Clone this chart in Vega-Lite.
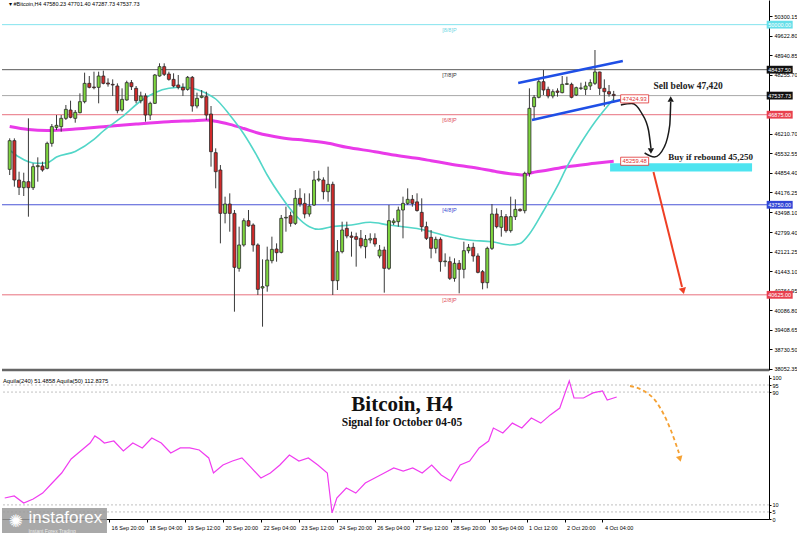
{
"$schema":"https://vega.github.io/schema/vega-lite/v6.json",
"padding":0,
"background":"#ffffff",
"spacing":2,
"config":{"view":{"stroke":null},"font":"Liberation Sans","axis":{"grid":false,"labelFontSize":5.5,"labelColor":"#000000","tickColor":"#000000","domainColor":"#000000","labelOverlap":false,"labelFlush":false,"labelFont":"Liberation Sans"}},
"datasets":{
"candles":[
{"t":"2021-09-13T04:00","o":44979,"h":46055,"l":44782,"c":45974},
{"t":"2021-09-13T08:00","o":45974,"h":46055,"l":44378,"c":44609},
{"t":"2021-09-13T12:00","o":44609,"h":44898,"l":44088,"c":44354},
{"t":"2021-09-13T16:00","o":44343,"h":44863,"l":44054,"c":44551},
{"t":"2021-09-13T20:00","o":44551,"h":46749,"l":43336,"c":44343},
{"t":"2021-09-14T00:00","o":44343,"h":45187,"l":44262,"c":45072},
{"t":"2021-09-14T04:00","o":45072,"h":45396,"l":44551,"c":45106},
{"t":"2021-09-14T08:00","o":45095,"h":45245,"l":44898,"c":44956},
{"t":"2021-09-14T12:00","o":45014,"h":45939,"l":44979,"c":45881},
{"t":"2021-09-14T16:00","o":45881,"h":46552,"l":45766,"c":46460},
{"t":"2021-09-14T20:00","o":46437,"h":46864,"l":46344,"c":46506},
{"t":"2021-09-15T00:00","o":46460,"h":46864,"l":46286,"c":46749},
{"t":"2021-09-15T04:00","o":46749,"h":47212,"l":46691,"c":47061},
{"t":"2021-09-15T08:00","o":47038,"h":47362,"l":46749,"c":46784},
{"t":"2021-09-15T12:00","o":46749,"h":47038,"l":46598,"c":46957},
{"t":"2021-09-15T16:00","o":46946,"h":47616,"l":46922,"c":47327},
{"t":"2021-09-15T20:00","o":47327,"h":48334,"l":47270,"c":47963},
{"t":"2021-09-16T00:00","o":47963,"h":48218,"l":47790,"c":47825},
{"t":"2021-09-16T04:00","o":47836,"h":48368,"l":47755,"c":47813},
{"t":"2021-09-16T08:00","o":47825,"h":48368,"l":47270,"c":48218},
{"t":"2021-09-16T12:00","o":48218,"h":48403,"l":47929,"c":47963},
{"t":"2021-09-16T16:00","o":47975,"h":48137,"l":47848,"c":47940},
{"t":"2021-09-16T20:00","o":47929,"h":48102,"l":47524,"c":47906},
{"t":"2021-09-17T00:00","o":47871,"h":47963,"l":46922,"c":47015},
{"t":"2021-09-17T04:00","o":47038,"h":47790,"l":46980,"c":47408},
{"t":"2021-09-17T08:00","o":47385,"h":48056,"l":47362,"c":47987},
{"t":"2021-09-17T12:00","o":47987,"h":48079,"l":47732,"c":47848},
{"t":"2021-09-17T16:00","o":47790,"h":47871,"l":47270,"c":47362},
{"t":"2021-09-17T20:00","o":47362,"h":47674,"l":47270,"c":47524},
{"t":"2021-09-18T00:00","o":47524,"h":47616,"l":46633,"c":46864},
{"t":"2021-09-18T04:00","o":46864,"h":47327,"l":46691,"c":47270},
{"t":"2021-09-18T08:00","o":47270,"h":48288,"l":47246,"c":48253},
{"t":"2021-09-18T12:00","o":48218,"h":48658,"l":48195,"c":48542},
{"t":"2021-09-18T16:00","o":48542,"h":48658,"l":48218,"c":48276},
{"t":"2021-09-18T20:00","o":48288,"h":48368,"l":48056,"c":48102},
{"t":"2021-09-19T00:00","o":48102,"h":48311,"l":47825,"c":47871},
{"t":"2021-09-19T04:00","o":47906,"h":48253,"l":47755,"c":47825},
{"t":"2021-09-19T08:00","o":47825,"h":47963,"l":47524,"c":47732},
{"t":"2021-09-19T12:00","o":47755,"h":48218,"l":47709,"c":48172},
{"t":"2021-09-19T16:00","o":48172,"h":48218,"l":46980,"c":47177},
{"t":"2021-09-19T20:00","o":47177,"h":47640,"l":47096,"c":47443},
{"t":"2021-09-20T00:00","o":47478,"h":47732,"l":47443,"c":47524},
{"t":"2021-09-20T04:00","o":47501,"h":47674,"l":46691,"c":46864},
{"t":"2021-09-20T08:00","o":46899,"h":47177,"l":45072,"c":45592},
{"t":"2021-09-20T12:00","o":45558,"h":45708,"l":44320,"c":44898},
{"t":"2021-09-20T16:00","o":44956,"h":45129,"l":42411,"c":43452},
{"t":"2021-09-20T20:00","o":43452,"h":44031,"l":43105,"c":43776},
{"t":"2021-09-21T00:00","o":43776,"h":44146,"l":42816,"c":43452},
{"t":"2021-09-21T04:00","o":43452,"h":43568,"l":40040,"c":41579},
{"t":"2021-09-21T08:00","o":41544,"h":42990,"l":41428,"c":42354},
{"t":"2021-09-21T12:00","o":42354,"h":43279,"l":42296,"c":43198},
{"t":"2021-09-21T16:00","o":43198,"h":43568,"l":42990,"c":43013},
{"t":"2021-09-21T20:00","o":43048,"h":43105,"l":42122,"c":42354},
{"t":"2021-09-22T00:00","o":42354,"h":42411,"l":40619,"c":40815},
{"t":"2021-09-22T04:00","o":40862,"h":41856,"l":39520,"c":40908},
{"t":"2021-09-22T08:00","o":40931,"h":42296,"l":40734,"c":41833},
{"t":"2021-09-22T12:00","o":41810,"h":42643,"l":41717,"c":42203},
{"t":"2021-09-22T16:00","o":42215,"h":42411,"l":41775,"c":42088},
{"t":"2021-09-22T20:00","o":42099,"h":43395,"l":42064,"c":43279},
{"t":"2021-09-23T00:00","o":43291,"h":43684,"l":42816,"c":43314},
{"t":"2021-09-23T04:00","o":43372,"h":43510,"l":42990,"c":43105},
{"t":"2021-09-23T08:00","o":43105,"h":44262,"l":43048,"c":43973},
{"t":"2021-09-23T12:00","o":43973,"h":44320,"l":43684,"c":43776},
{"t":"2021-09-23T16:00","o":43799,"h":44146,"l":43279,"c":43429},
{"t":"2021-09-23T20:00","o":43429,"h":44146,"l":43337,"c":43707},
{"t":"2021-09-24T00:00","o":43742,"h":44921,"l":43707,"c":44609},
{"t":"2021-09-24T04:00","o":44609,"h":44933,"l":44551,"c":44644},
{"t":"2021-09-24T08:00","o":44609,"h":44702,"l":43938,"c":44204},
{"t":"2021-09-24T12:00","o":44204,"h":45072,"l":43857,"c":44459},
{"t":"2021-09-24T16:00","o":44459,"h":44551,"l":40619,"c":41116},
{"t":"2021-09-24T20:00","o":41116,"h":42527,"l":40792,"c":42122},
{"t":"2021-09-25T00:00","o":42122,"h":43163,"l":42064,"c":42874},
{"t":"2021-09-25T04:00","o":42932,"h":43163,"l":42585,"c":42666},
{"t":"2021-09-25T08:00","o":42666,"h":42816,"l":41949,"c":42620},
{"t":"2021-09-25T12:00","o":42643,"h":42782,"l":41602,"c":42550},
{"t":"2021-09-25T16:00","o":42585,"h":42874,"l":42238,"c":42319},
{"t":"2021-09-25T20:00","o":42296,"h":42701,"l":41891,"c":42550},
{"t":"2021-09-26T00:00","o":42527,"h":42759,"l":42411,"c":42573},
{"t":"2021-09-26T04:00","o":42585,"h":42759,"l":42296,"c":42388},
{"t":"2021-09-26T08:00","o":41972,"h":42354,"l":41891,"c":42180},
{"t":"2021-09-26T12:00","o":42180,"h":42296,"l":40700,"c":41544},
{"t":"2021-09-26T16:00","o":41544,"h":43742,"l":41486,"c":43198},
{"t":"2021-09-26T20:00","o":43129,"h":43279,"l":43048,"c":43187},
{"t":"2021-09-27T00:00","o":43163,"h":43684,"l":42990,"c":43568},
{"t":"2021-09-27T04:00","o":43568,"h":44031,"l":42585,"c":43799},
{"t":"2021-09-27T08:00","o":43799,"h":44320,"l":43742,"c":43938},
{"t":"2021-09-27T12:00","o":43938,"h":44088,"l":43684,"c":43799},
{"t":"2021-09-27T16:00","o":43850,"h":44147,"l":43510,"c":43550},
{"t":"2021-09-27T20:00","o":43487,"h":43973,"l":42817,"c":42990},
{"t":"2021-09-28T00:00","o":42990,"h":43163,"l":42527,"c":42585},
{"t":"2021-09-28T04:00","o":42620,"h":42874,"l":41891,"c":42238},
{"t":"2021-09-28T08:00","o":42238,"h":42643,"l":42064,"c":42550},
{"t":"2021-09-28T12:00","o":42550,"h":42620,"l":41428,"c":41775},
{"t":"2021-09-28T16:00","o":41775,"h":42064,"l":41602,"c":41798},
{"t":"2021-09-28T20:00","o":41775,"h":41949,"l":41139,"c":41197},
{"t":"2021-09-29T00:00","o":41197,"h":41891,"l":41081,"c":41718},
{"t":"2021-09-29T04:00","o":41718,"h":41833,"l":40676,"c":41509},
{"t":"2021-09-29T08:00","o":41509,"h":42469,"l":41197,"c":42157},
{"t":"2021-09-29T12:00","o":42157,"h":42388,"l":42064,"c":42273},
{"t":"2021-09-29T16:00","o":42273,"h":42435,"l":41775,"c":41972},
{"t":"2021-09-29T20:00","o":41972,"h":42064,"l":41370,"c":41405},
{"t":"2021-09-30T00:00","o":41428,"h":41486,"l":40815,"c":41046},
{"t":"2021-09-30T04:00","o":41046,"h":42296,"l":40850,"c":42238},
{"t":"2021-09-30T08:00","o":42238,"h":43776,"l":42180,"c":43429},
{"t":"2021-09-30T12:00","o":43429,"h":43626,"l":42932,"c":42990},
{"t":"2021-09-30T16:00","o":42967,"h":43568,"l":42643,"c":43337},
{"t":"2021-09-30T20:00","o":43337,"h":43429,"l":42782,"c":42851},
{"t":"2021-10-01T00:00","o":42851,"h":44031,"l":42782,"c":43337},
{"t":"2021-10-01T04:00","o":43337,"h":43938,"l":43221,"c":43591},
{"t":"2021-10-01T08:00","o":43591,"h":43626,"l":43510,"c":43545},
{"t":"2021-10-01T12:00","o":43545,"h":44898,"l":43452,"c":44840},
{"t":"2021-10-01T16:00","o":44840,"h":47790,"l":44725,"c":47096},
{"t":"2021-10-01T20:00","o":47154,"h":47559,"l":46714,"c":47478},
{"t":"2021-10-02T00:00","o":47478,"h":48102,"l":47443,"c":48021},
{"t":"2021-10-02T04:00","o":48021,"h":48426,"l":47559,"c":47732},
{"t":"2021-10-02T08:00","o":47755,"h":47848,"l":47443,"c":47524},
{"t":"2021-10-02T12:00","o":47524,"h":47755,"l":47443,"c":47674},
{"t":"2021-10-02T16:00","o":47698,"h":47790,"l":47501,"c":47651},
{"t":"2021-10-02T20:00","o":47640,"h":48218,"l":47617,"c":47929},
{"t":"2021-10-03T00:00","o":47929,"h":48195,"l":47906,"c":47952},
{"t":"2021-10-03T04:00","o":47929,"h":47987,"l":47443,"c":47478},
{"t":"2021-10-03T08:00","o":47559,"h":47848,"l":47524,"c":47813},
{"t":"2021-10-03T12:00","o":47790,"h":47987,"l":47732,"c":47802},
{"t":"2021-10-03T16:00","o":47755,"h":48021,"l":47559,"c":47871},
{"t":"2021-10-03T20:00","o":47871,"h":48102,"l":47732,"c":47987},
{"t":"2021-10-04T00:00","o":47964,"h":49120,"l":47906,"c":48357},
{"t":"2021-10-04T04:00","o":48357,"h":48368,"l":47559,"c":47790},
{"t":"2021-10-04T08:00","o":47790,"h":48102,"l":47154,"c":47674},
{"t":"2021-10-04T12:00","o":47674,"h":47906,"l":47501,"c":47593},
{"t":"2021-10-04T16:00","o":47580.23,"h":47701.40,"l":47287.73,"c":47537.73}
],
"maSlow":[
{"t":"2021-09-13T04:00","p":46466},{"t":"2021-09-13T20:00","p":46362},{"t":"2021-09-14T12:00","p":46327},{"t":"2021-09-15T12:00","p":46379},{"t":"2021-09-16T12:00","p":46459},{"t":"2021-09-17T16:00","p":46552},{"t":"2021-09-18T20:00","p":46632},{"t":"2021-09-19T16:00","p":46667},{"t":"2021-09-20T04:00","p":46690},{"t":"2021-09-20T12:00","p":46650},{"t":"2021-09-21T00:00","p":46540},{"t":"2021-09-21T12:00","p":46396},{"t":"2021-09-22T00:00","p":46240},{"t":"2021-09-22T20:00","p":46077},{"t":"2021-09-23T20:00","p":45970},{"t":"2021-09-24T12:00","p":45883},{"t":"2021-09-25T04:00","p":45744},{"t":"2021-09-26T04:00","p":45592},{"t":"2021-09-26T20:00","p":45477},{"t":"2021-09-27T16:00","p":45362},{"t":"2021-09-28T04:00","p":45279},{"t":"2021-09-28T20:00","p":45165},{"t":"2021-09-29T20:00","p":45015},{"t":"2021-09-30T12:00","p":44897},{"t":"2021-10-01T04:00","p":44807},{"t":"2021-10-01T12:00","p":44783},{"t":"2021-10-01T16:00","p":44842},{"t":"2021-10-02T08:00","p":44956},{"t":"2021-10-03T00:00","p":45071},{"t":"2021-10-04T00:00","p":45188},{"t":"2021-10-04T16:00","p":45259.48}
],
"maFast":[
{"t":"2021-09-13T04:00","p":45650},{"t":"2021-09-13T12:00","p":45407},{"t":"2021-09-13T20:00","p":45244},{"t":"2021-09-14T04:00","p":45189},{"t":"2021-09-14T12:00","p":45210},{"t":"2021-09-14T20:00","p":45407},{"t":"2021-09-15T12:00","p":45598},{"t":"2021-09-16T04:00","p":46015},{"t":"2021-09-16T12:00","p":46310},{"t":"2021-09-17T04:00","p":46796},{"t":"2021-09-17T20:00","p":47351},{"t":"2021-09-18T08:00","p":47639},{"t":"2021-09-18T20:00","p":47791},{"t":"2021-09-19T08:00","p":47826},{"t":"2021-09-19T20:00","p":47750},{"t":"2021-09-20T04:00","p":47618},{"t":"2021-09-20T12:00","p":47420},{"t":"2021-09-21T00:00","p":46865},{"t":"2021-09-21T12:00","p":46206},{"t":"2021-09-22T00:00","p":45390},{"t":"2021-09-22T08:00","p":44783},{"t":"2021-09-22T20:00","p":44030},{"t":"2021-09-23T08:00","p":43395},{"t":"2021-09-23T20:00","p":42989},{"t":"2021-09-24T04:00","p":42899},{"t":"2021-09-24T16:00","p":42996},{"t":"2021-09-25T08:00","p":43048},{"t":"2021-09-26T00:00","p":43141},{"t":"2021-09-26T16:00","p":43048},{"t":"2021-09-27T04:00","p":42989},{"t":"2021-09-27T16:00","p":42926},{"t":"2021-09-28T04:00","p":42815},{"t":"2021-09-28T20:00","p":42642},{"t":"2021-09-29T12:00","p":42527},{"t":"2021-09-30T08:00","p":42468},{"t":"2021-10-01T00:00","p":42354},{"t":"2021-10-01T08:00","p":42406},{"t":"2021-10-01T16:00","p":42736},{"t":"2021-10-02T04:00","p":43534},{"t":"2021-10-02T16:00","p":44402},{"t":"2021-10-03T00:00","p":45062},{"t":"2021-10-03T12:00","p":45893},{"t":"2021-10-04T00:00","p":46622},{"t":"2021-10-04T08:00","p":47039},{"t":"2021-10-04T16:00","p":47424.93}
],
"murray":[
{"lvl":"8/8","p":50000,"lab":"[8/8]P"},{"lvl":"7/8","p":48437.5,"lab":"[7/8]P"},{"lvl":"6/8","p":46875,"lab":"[6/8]P"},{"lvl":"4/8","p":43750,"lab":"[4/8]P"},{"lvl":"2/8","p":40625,"lab":"[2/8]P"}
],
"axisTags":[
{"lvl":"8/8","p":50000,"lab":"50000.00","t":"2021-10-10T13:48"},{"lvl":"7/8","p":48437.5,"lab":"48437.50","t":"2021-10-10T13:48"},{"lvl":"bid","p":47537.73,"lab":"47537.73","t":"2021-10-10T13:48"},{"lvl":"6/8","p":46875,"lab":"46875.00","t":"2021-10-10T13:48"},{"lvl":"4/8","p":43750,"lab":"43750.00","t":"2021-10-10T13:48"},{"lvl":"2/8","p":40625,"lab":"40625.00","t":"2021-10-10T13:48"}
],
"maTags":[
{"t":"2021-10-05T09:54","p":47424.93,"lab":"47424.93"},{"t":"2021-10-05T09:54","p":45259.48,"lab":"45259.48"}
],
"channel":[
{"id":"u","t":"2021-10-01T06:24","p":47975},{"id":"u","t":"2021-10-04T23:48","p":48739},{"id":"l","t":"2021-10-01T18:12","p":46691},{"id":"l","t":"2021-10-04T22:06","p":47385}
],
"blackArrows":[
{"id":"a1","t":"2021-10-04T22:06","p":47212},{"id":"a1","t":"2021-10-05T07:24","p":47264},{"id":"a1","t":"2021-10-05T15:48","p":46934},{"id":"a1","t":"2021-10-05T21:42","p":46344},{"id":"a1","t":"2021-10-05T23:48","p":45720},
{"id":"a2","t":"2021-10-05T18:24","p":45546},{"id":"a2","t":"2021-10-06T02:48","p":45407},{"id":"a2","t":"2021-10-06T11:12","p":45754},{"id":"a2","t":"2021-10-06T15:54","p":46518},{"id":"a2","t":"2021-10-06T16:42","p":47316}
],
"redArrow":[
{"t":"2021-10-06T02:00","p":44887},{"t":"2021-10-07T02:24","p":40897}
],
"zone":[{"t":"2021-10-04T12:54","t2":"2021-10-09T14:12","p":45190,"p2":44900}],
"aq":[
{"t":"2021-09-13T04:00","v":14.9},{"t":"2021-09-13T12:00","v":16.3},{"t":"2021-09-13T20:00","v":11.3},{"t":"2021-09-14T04:00","v":14.2},{"t":"2021-09-14T12:00","v":18.4},{"t":"2021-09-14T20:00","v":25.5},{"t":"2021-09-15T04:00","v":32.6},{"t":"2021-09-15T12:00","v":42.6},{"t":"2021-09-15T20:00","v":48.2},{"t":"2021-09-16T04:00","v":53.9},{"t":"2021-09-16T08:00","v":58.9},{"t":"2021-09-16T12:00","v":56.7},{"t":"2021-09-16T16:00","v":53.9},{"t":"2021-09-17T00:00","v":55.3},{"t":"2021-09-17T08:00","v":48.2},{"t":"2021-09-17T16:00","v":53.9},{"t":"2021-09-18T00:00","v":50.4},{"t":"2021-09-18T08:00","v":57.4},{"t":"2021-09-18T16:00","v":53.9},{"t":"2021-09-19T00:00","v":46.8},{"t":"2021-09-19T08:00","v":50.4},{"t":"2021-09-19T16:00","v":50.4},{"t":"2021-09-20T00:00","v":48.9},{"t":"2021-09-20T08:00","v":43.3},{"t":"2021-09-20T12:00","v":32.6},{"t":"2021-09-20T20:00","v":38.3},{"t":"2021-09-21T04:00","v":41.1},{"t":"2021-09-21T12:00","v":43.3},{"t":"2021-09-21T20:00","v":36.2},{"t":"2021-09-22T04:00","v":29.1},{"t":"2021-09-22T12:00","v":32.6},{"t":"2021-09-22T20:00","v":38.3},{"t":"2021-09-23T04:00","v":45.4},{"t":"2021-09-23T12:00","v":41.1},{"t":"2021-09-23T20:00","v":43.3},{"t":"2021-09-24T04:00","v":38.3},{"t":"2021-09-24T12:00","v":32.6},{"t":"2021-09-24T16:00","v":4.3},{"t":"2021-09-24T20:00","v":14.9},{"t":"2021-09-25T04:00","v":22},{"t":"2021-09-25T12:00","v":18.4},{"t":"2021-09-25T20:00","v":25.5},{"t":"2021-09-26T04:00","v":29.1},{"t":"2021-09-26T12:00","v":32.6},{"t":"2021-09-26T20:00","v":36.2},{"t":"2021-09-27T04:00","v":34},{"t":"2021-09-27T12:00","v":36.2},{"t":"2021-09-27T20:00","v":32.6},{"t":"2021-09-28T04:00","v":38.3},{"t":"2021-09-28T12:00","v":31.2},{"t":"2021-09-28T20:00","v":27},{"t":"2021-09-29T04:00","v":38.3},{"t":"2021-09-29T12:00","v":41.1},{"t":"2021-09-29T20:00","v":50.4},{"t":"2021-09-30T04:00","v":55.3},{"t":"2021-09-30T08:00","v":64.5},{"t":"2021-09-30T16:00","v":61},{"t":"2021-10-01T00:00","v":68},{"t":"2021-10-01T08:00","v":64.5},{"t":"2021-10-01T16:00","v":71.6},{"t":"2021-10-02T00:00","v":68},{"t":"2021-10-02T08:00","v":73.8},{"t":"2021-10-02T16:00","v":78.7},{"t":"2021-10-03T00:00","v":97.9},{"t":"2021-10-03T04:00","v":85.8},{"t":"2021-10-03T12:00","v":85.8},{"t":"2021-10-03T20:00","v":89.4},{"t":"2021-10-04T04:00","v":90.8},{"t":"2021-10-04T08:00","v":84.4},{"t":"2021-10-04T16:00","v":86.5}
],
"aqLevels":[{"v":5},{"v":10},{"v":90},{"v":95}],
"orangeArrow":[{"t":"2021-10-05T03:12","v":94.3},{"t":"2021-10-05T13:18","v":91.5},{"t":"2021-10-06T02:00","v":82.3},{"t":"2021-10-06T12:54","v":64.5},{"t":"2021-10-06T20:30","v":46.8}]
},
"vconcat":[
{
"width":767,"height":370,
"layer":[
{"data":{"name":"murray"},"mark":{"type":"rule","strokeWidth":1},
 "encoding":{"y":{"field":"p","type":"quantitative","scale":{"domain":[38016.35,50855.35],"nice":false,"zero":false},"axis":{"orient":"right","values":[50300.15,49622.80,48940.85,48255.70,46210.70,45532.55,44854.40,44176.25,43498.10,42799.40,42121.25,41443.10,40764.95,40086.80,39408.65,38730.50,38052.35],"format":".2f","title":null,"tickSize":3,"labelPadding":2}},
  "stroke":{"field":"lvl","type":"nominal","scale":{"domain":["8/8","7/8","6/8","4/8","2/8"],"range":["#84e4ee","#5a5a5a","#e8707e","#4a55d6","#e8707e"]},"legend":null}}},
{"data":{"values":[{"p":47537.73}]},"mark":{"type":"rule","strokeWidth":1,"color":"#a8a8a8"},
 "encoding":{"y":{"field":"p","type":"quantitative","scale":{"domain":[38016.35,50855.35],"nice":false,"zero":false},"axis":{"orient":"right","values":[50300.15,49622.80,48940.85,48255.70,46210.70,45532.55,44854.40,44176.25,43498.10,42799.40,42121.25,41443.10,40764.95,40086.80,39408.65,38730.50,38052.35],"format":".2f","title":null,"tickSize":3,"labelPadding":2}}}},
{"data":{"name":"murray"},"mark":{"type":"text","align":"left","baseline":"middle","dy":5,"fontSize":5.5},
 "encoding":{"x":{"datum":{"year":2021,"month":9,"date":28,"hours":13,"minutes":30},"type":"temporal","scale":{"domain":[{"year":2021,"month":9,"date":13,"hours":1,"minutes":42},{"year":2021,"month":10,"date":10,"hours":0,"minutes":24}]},"axis":null},
  "y":{"field":"p","type":"quantitative","scale":{"domain":[38016.35,50855.35],"nice":false,"zero":false},"axis":{"orient":"right","values":[50300.15,49622.80,48940.85,48255.70,46210.70,45532.55,44854.40,44176.25,43498.10,42799.40,42121.25,41443.10,40764.95,40086.80,39408.65,38730.50,38052.35],"format":".2f","title":null,"tickSize":3,"labelPadding":2}},
  "text":{"field":"lab"},
  "color":{"field":"lvl","type":"nominal","scale":{"domain":["8/8","7/8","6/8","4/8","2/8"],"range":["#6fd8e4","#333333","#e05060","#3a48d0","#e05060"]},"legend":null}}},
{"data":{"name":"zone"},"mark":{"type":"rect","color":"#45e3ef","opacity":0.95},
 "encoding":{"x":{"field":"t","type":"temporal","scale":{"domain":[{"year":2021,"month":9,"date":13,"hours":1,"minutes":42},{"year":2021,"month":10,"date":10,"hours":0,"minutes":24}]},"axis":null},"x2":{"field":"t2"},
  "y":{"field":"p","type":"quantitative","scale":{"domain":[38016.35,50855.35],"nice":false,"zero":false},"axis":{"orient":"right","values":[50300.15,49622.80,48940.85,48255.70,46210.70,45532.55,44854.40,44176.25,43498.10,42799.40,42121.25,41443.10,40764.95,40086.80,39408.65,38730.50,38052.35],"format":".2f","title":null,"tickSize":3,"labelPadding":2}},"y2":{"field":"p2"}}},
{"data":{"name":"maSlow"},"mark":{"type":"line","color":"#e93ae9","strokeWidth":3,"interpolate":"monotone"},
 "encoding":{"x":{"field":"t","type":"temporal","scale":{"domain":[{"year":2021,"month":9,"date":13,"hours":1,"minutes":42},{"year":2021,"month":10,"date":10,"hours":0,"minutes":24}]},"axis":null},
  "y":{"field":"p","type":"quantitative","scale":{"domain":[38016.35,50855.35],"nice":false,"zero":false},"axis":{"orient":"right","values":[50300.15,49622.80,48940.85,48255.70,46210.70,45532.55,44854.40,44176.25,43498.10,42799.40,42121.25,41443.10,40764.95,40086.80,39408.65,38730.50,38052.35],"format":".2f","title":null,"tickSize":3,"labelPadding":2}}}},
{"data":{"name":"maFast"},"mark":{"type":"line","color":"#52d6c8","strokeWidth":1.6,"interpolate":"monotone"},
 "encoding":{"x":{"field":"t","type":"temporal","scale":{"domain":[{"year":2021,"month":9,"date":13,"hours":1,"minutes":42},{"year":2021,"month":10,"date":10,"hours":0,"minutes":24}]},"axis":null},
  "y":{"field":"p","type":"quantitative","scale":{"domain":[38016.35,50855.35],"nice":false,"zero":false},"axis":{"orient":"right","values":[50300.15,49622.80,48940.85,48255.70,46210.70,45532.55,44854.40,44176.25,43498.10,42799.40,42121.25,41443.10,40764.95,40086.80,39408.65,38730.50,38052.35],"format":".2f","title":null,"tickSize":3,"labelPadding":2}}}},
{"data":{"name":"candles"},"mark":{"type":"rule","color":"#3a3a3a","strokeWidth":1},
 "encoding":{"x":{"field":"t","type":"temporal","scale":{"domain":[{"year":2021,"month":9,"date":13,"hours":1,"minutes":42},{"year":2021,"month":10,"date":10,"hours":0,"minutes":24}]},"axis":null},
  "y":{"field":"l","type":"quantitative","scale":{"domain":[38016.35,50855.35],"nice":false,"zero":false},"axis":{"orient":"right","values":[50300.15,49622.80,48940.85,48255.70,46210.70,45532.55,44854.40,44176.25,43498.10,42799.40,42121.25,41443.10,40764.95,40086.80,39408.65,38730.50,38052.35],"format":".2f","title":null,"tickSize":3,"labelPadding":2}},"y2":{"field":"h"}}},
{"data":{"name":"candles"},"mark":{"type":"bar","width":3,"stroke":"#2a2a2a","strokeWidth":0.8},
 "encoding":{"x":{"field":"t","type":"temporal","scale":{"domain":[{"year":2021,"month":9,"date":13,"hours":1,"minutes":42},{"year":2021,"month":10,"date":10,"hours":0,"minutes":24}]},"axis":null},
  "y":{"field":"o","type":"quantitative","scale":{"domain":[38016.35,50855.35],"nice":false,"zero":false},"axis":{"orient":"right","values":[50300.15,49622.80,48940.85,48255.70,46210.70,45532.55,44854.40,44176.25,43498.10,42799.40,42121.25,41443.10,40764.95,40086.80,39408.65,38730.50,38052.35],"format":".2f","title":null,"tickSize":3,"labelPadding":2}},"y2":{"field":"c"},
  "fill":{"condition":{"test":"datum.c >= datum.o","value":"#7ed63e"},"value":"#d22a2a"}}},
{"data":{"name":"channel"},"mark":{"type":"line","color":"#1f4fe6","strokeWidth":2.5},
 "encoding":{"x":{"field":"t","type":"temporal","scale":{"domain":[{"year":2021,"month":9,"date":13,"hours":1,"minutes":42},{"year":2021,"month":10,"date":10,"hours":0,"minutes":24}]},"axis":null},
  "y":{"field":"p","type":"quantitative","scale":{"domain":[38016.35,50855.35],"nice":false,"zero":false},"axis":{"orient":"right","values":[50300.15,49622.80,48940.85,48255.70,46210.70,45532.55,44854.40,44176.25,43498.10,42799.40,42121.25,41443.10,40764.95,40086.80,39408.65,38730.50,38052.35],"format":".2f","title":null,"tickSize":3,"labelPadding":2}},"detail":{"field":"id"}}},
{"data":{"name":"blackArrows"},"mark":{"type":"line","color":"#1a1a1a","strokeWidth":1.5,"interpolate":"monotone"},
 "encoding":{"x":{"field":"t","type":"temporal","scale":{"domain":[{"year":2021,"month":9,"date":13,"hours":1,"minutes":42},{"year":2021,"month":10,"date":10,"hours":0,"minutes":24}]},"axis":null},
  "y":{"field":"p","type":"quantitative","scale":{"domain":[38016.35,50855.35],"nice":false,"zero":false},"axis":{"orient":"right","values":[50300.15,49622.80,48940.85,48255.70,46210.70,45532.55,44854.40,44176.25,43498.10,42799.40,42121.25,41443.10,40764.95,40086.80,39408.65,38730.50,38052.35],"format":".2f","title":null,"tickSize":3,"labelPadding":2}},"detail":{"field":"id"}}},
{"data":{"values":[{"t":"2021-10-05T23:48","p":45616}]},"mark":{"type":"point","shape":"triangle-down","filled":true,"size":40,"color":"#1a1a1a","opacity":1},
 "encoding":{"x":{"field":"t","type":"temporal","scale":{"domain":[{"year":2021,"month":9,"date":13,"hours":1,"minutes":42},{"year":2021,"month":10,"date":10,"hours":0,"minutes":24}]},"axis":null},
  "y":{"field":"p","type":"quantitative","scale":{"domain":[38016.35,50855.35],"nice":false,"zero":false},"axis":{"orient":"right","values":[50300.15,49622.80,48940.85,48255.70,46210.70,45532.55,44854.40,44176.25,43498.10,42799.40,42121.25,41443.10,40764.95,40086.80,39408.65,38730.50,38052.35],"format":".2f","title":null,"tickSize":3,"labelPadding":2}}}},
{"data":{"values":[{"t":"2021-10-06T16:42","p":47420}]},"mark":{"type":"point","shape":"triangle-up","filled":true,"size":40,"color":"#1a1a1a","opacity":1},
 "encoding":{"x":{"field":"t","type":"temporal","scale":{"domain":[{"year":2021,"month":9,"date":13,"hours":1,"minutes":42},{"year":2021,"month":10,"date":10,"hours":0,"minutes":24}]},"axis":null},
  "y":{"field":"p","type":"quantitative","scale":{"domain":[38016.35,50855.35],"nice":false,"zero":false},"axis":{"orient":"right","values":[50300.15,49622.80,48940.85,48255.70,46210.70,45532.55,44854.40,44176.25,43498.10,42799.40,42121.25,41443.10,40764.95,40086.80,39408.65,38730.50,38052.35],"format":".2f","title":null,"tickSize":3,"labelPadding":2}}}},
{"data":{"name":"redArrow"},"mark":{"type":"line","color":"#ee3f24","strokeWidth":2},
 "encoding":{"x":{"field":"t","type":"temporal","scale":{"domain":[{"year":2021,"month":9,"date":13,"hours":1,"minutes":42},{"year":2021,"month":10,"date":10,"hours":0,"minutes":24}]},"axis":null},
  "y":{"field":"p","type":"quantitative","scale":{"domain":[38016.35,50855.35],"nice":false,"zero":false},"axis":{"orient":"right","values":[50300.15,49622.80,48940.85,48255.70,46210.70,45532.55,44854.40,44176.25,43498.10,42799.40,42121.25,41443.10,40764.95,40086.80,39408.65,38730.50,38052.35],"format":".2f","title":null,"tickSize":3,"labelPadding":2}}}},
{"data":{"values":[{"t":"2021-10-07T03:18","p":40758}]},"mark":{"type":"point","shape":"triangle-down","filled":true,"size":55,"angle":346,"color":"#ee3f24","opacity":1},
 "encoding":{"x":{"field":"t","type":"temporal","scale":{"domain":[{"year":2021,"month":9,"date":13,"hours":1,"minutes":42},{"year":2021,"month":10,"date":10,"hours":0,"minutes":24}]},"axis":null},
  "y":{"field":"p","type":"quantitative","scale":{"domain":[38016.35,50855.35],"nice":false,"zero":false},"axis":{"orient":"right","values":[50300.15,49622.80,48940.85,48255.70,46210.70,45532.55,44854.40,44176.25,43498.10,42799.40,42121.25,41443.10,40764.95,40086.80,39408.65,38730.50,38052.35],"format":".2f","title":null,"tickSize":3,"labelPadding":2}}}},
{"data":{"values":[{"t":"2021-10-06T01:57","p":47871,"txt":"Sell below 47,420"}]},"mark":{"type":"text","align":"left","baseline":"middle","font":"Liberation Serif","fontWeight":"bold","fontSize":9.5,"color":"#222222"},
 "encoding":{"x":{"field":"t","type":"temporal","scale":{"domain":[{"year":2021,"month":9,"date":13,"hours":1,"minutes":42},{"year":2021,"month":10,"date":10,"hours":0,"minutes":24}]},"axis":null},
  "y":{"field":"p","type":"quantitative","scale":{"domain":[38016.35,50855.35],"nice":false,"zero":false},"axis":{"orient":"right","values":[50300.15,49622.80,48940.85,48255.70,46210.70,45532.55,44854.40,44176.25,43498.10,42799.40,42121.25,41443.10,40764.95,40086.80,39408.65,38730.50,38052.35],"format":".2f","title":null,"tickSize":3,"labelPadding":2}},"text":{"field":"txt"}}},
{"data":{"values":[{"t":"2021-10-06T14:36","p":45407,"txt":"Buy if rebound 45,250"}]},"mark":{"type":"text","align":"left","baseline":"middle","font":"Liberation Serif","fontWeight":"bold","fontSize":9,"color":"#222222"},
 "encoding":{"x":{"field":"t","type":"temporal","scale":{"domain":[{"year":2021,"month":9,"date":13,"hours":1,"minutes":42},{"year":2021,"month":10,"date":10,"hours":0,"minutes":24}]},"axis":null},
  "y":{"field":"p","type":"quantitative","scale":{"domain":[38016.35,50855.35],"nice":false,"zero":false},"axis":{"orient":"right","values":[50300.15,49622.80,48940.85,48255.70,46210.70,45532.55,44854.40,44176.25,43498.10,42799.40,42121.25,41443.10,40764.95,40086.80,39408.65,38730.50,38052.35],"format":".2f","title":null,"tickSize":3,"labelPadding":2}},"text":{"field":"txt"}}},
{"data":{"name":"maTags"},"mark":{"type":"point","shape":"M-1,-0.29L1,-0.29L1,0.29L-1,0.29Z","filled":true,"size":784,"color":"#ffffff","stroke":"#e03030","strokeWidth":0.8,"opacity":1},
 "encoding":{"x":{"field":"t","type":"temporal","scale":{"domain":[{"year":2021,"month":9,"date":13,"hours":1,"minutes":42},{"year":2021,"month":10,"date":10,"hours":0,"minutes":24}]},"axis":null},
  "y":{"field":"p","type":"quantitative","scale":{"domain":[38016.35,50855.35],"nice":false,"zero":false},"axis":{"orient":"right","values":[50300.15,49622.80,48940.85,48255.70,46210.70,45532.55,44854.40,44176.25,43498.10,42799.40,42121.25,41443.10,40764.95,40086.80,39408.65,38730.50,38052.35],"format":".2f","title":null,"tickSize":3,"labelPadding":2}}}},
{"data":{"name":"maTags"},"mark":{"type":"text","align":"center","baseline":"middle","fontSize":5.8,"color":"#e03030"},
 "encoding":{"x":{"field":"t","type":"temporal","scale":{"domain":[{"year":2021,"month":9,"date":13,"hours":1,"minutes":42},{"year":2021,"month":10,"date":10,"hours":0,"minutes":24}]},"axis":null},
  "y":{"field":"p","type":"quantitative","scale":{"domain":[38016.35,50855.35],"nice":false,"zero":false},"axis":{"orient":"right","values":[50300.15,49622.80,48940.85,48255.70,46210.70,45532.55,44854.40,44176.25,43498.10,42799.40,42121.25,41443.10,40764.95,40086.80,39408.65,38730.50,38052.35],"format":".2f","title":null,"tickSize":3,"labelPadding":2}},"text":{"field":"lab"}}},
{"data":{"name":"axisTags"},"mark":{"type":"point","shape":"M-1,-0.3L1,-0.3L1,0.3L-1,0.3Z","filled":true,"size":676,"opacity":1,"strokeWidth":0},
 "encoding":{"x":{"field":"t","type":"temporal","scale":{"domain":[{"year":2021,"month":9,"date":13,"hours":1,"minutes":42},{"year":2021,"month":10,"date":10,"hours":0,"minutes":24}]},"axis":null},
  "y":{"field":"p","type":"quantitative","scale":{"domain":[38016.35,50855.35],"nice":false,"zero":false},"axis":{"orient":"right","values":[50300.15,49622.80,48940.85,48255.70,46210.70,45532.55,44854.40,44176.25,43498.10,42799.40,42121.25,41443.10,40764.95,40086.80,39408.65,38730.50,38052.35],"format":".2f","title":null,"tickSize":3,"labelPadding":2}},
  "fill":{"field":"lvl","type":"nominal","scale":{"domain":["8/8","7/8","bid","6/8","4/8","2/8"],"range":["#66dfe9","#111111","#111111","#e8404e","#3146d6","#e8404e"]},"legend":null}}},
{"data":{"name":"axisTags"},"mark":{"type":"text","align":"center","baseline":"middle","fontSize":5.5,"color":"#ffffff"},
 "encoding":{"x":{"field":"t","type":"temporal","scale":{"domain":[{"year":2021,"month":9,"date":13,"hours":1,"minutes":42},{"year":2021,"month":10,"date":10,"hours":0,"minutes":24}]},"axis":null},
  "y":{"field":"p","type":"quantitative","scale":{"domain":[38016.35,50855.35],"nice":false,"zero":false},"axis":{"orient":"right","values":[50300.15,49622.80,48940.85,48255.70,46210.70,45532.55,44854.40,44176.25,43498.10,42799.40,42121.25,41443.10,40764.95,40086.80,39408.65,38730.50,38052.35],"format":".2f","title":null,"tickSize":3,"labelPadding":2}},"text":{"field":"lab"}}},
{"data":{"values":[{"t":"2021-09-13T01:42","p":50716,"txt":"▾ #Bitcoin,H4  47580.23 47701.40 47287.73 47537.73"}]},"mark":{"type":"text","align":"left","baseline":"middle","dx":2,"fontSize":5.5,"color":"#000000"},
 "encoding":{"x":{"field":"t","type":"temporal","scale":{"domain":[{"year":2021,"month":9,"date":13,"hours":1,"minutes":42},{"year":2021,"month":10,"date":10,"hours":0,"minutes":24}]},"axis":null},
  "y":{"field":"p","type":"quantitative","scale":{"domain":[38016.35,50855.35],"nice":false,"zero":false},"axis":{"orient":"right","values":[50300.15,49622.80,48940.85,48255.70,46210.70,45532.55,44854.40,44176.25,43498.10,42799.40,42121.25,41443.10,40764.95,40086.80,39408.65,38730.50,38052.35],"format":".2f","title":null,"tickSize":3,"labelPadding":2}},"text":{"field":"txt"}}},
{"data":{"values":[{"p":38016.35}]},"mark":{"type":"rule","strokeWidth":2.5,"color":"#666666"},
 "encoding":{"y":{"field":"p","type":"quantitative","scale":{"domain":[38016.35,50855.35],"nice":false,"zero":false},"axis":{"orient":"right","values":[50300.15,49622.80,48940.85,48255.70,46210.70,45532.55,44854.40,44176.25,43498.10,42799.40,42121.25,41443.10,40764.95,40086.80,39408.65,38730.50,38052.35],"format":".2f","title":null,"tickSize":3,"labelPadding":2}}}}
]
},
{
"width":767,"height":144,
"layer":[
{"data":{"name":"aqLevels"},"mark":{"type":"rule","strokeWidth":0.8,"color":"#b0b0b0","strokeDash":[2,2]},
 "encoding":{"y":{"field":"v","type":"quantitative","scale":{"domain":[0,102.1],"nice":false,"zero":false},"axis":{"orient":"right","values":[0,5,10,90,95,100],"title":null,"tickSize":2,"labelPadding":1}}}},
{"data":{"name":"aq"},"mark":{"type":"line","color":"#f03cf0","strokeWidth":1.2},
 "encoding":{"x":{"field":"t","type":"temporal","scale":{"domain":[{"year":2021,"month":9,"date":13,"hours":1,"minutes":42},{"year":2021,"month":10,"date":10,"hours":0,"minutes":24}]},"axis":{"values":[{"year":2021,"month":9,"date":16,"hours":20},{"year":2021,"month":9,"date":18,"hours":4},{"year":2021,"month":9,"date":19,"hours":12},{"year":2021,"month":9,"date":20,"hours":20},{"year":2021,"month":9,"date":22,"hours":4},{"year":2021,"month":9,"date":23,"hours":12},{"year":2021,"month":9,"date":24,"hours":20},{"year":2021,"month":9,"date":26,"hours":4},{"year":2021,"month":9,"date":27,"hours":12},{"year":2021,"month":9,"date":28,"hours":20},{"year":2021,"month":9,"date":30,"hours":4},{"year":2021,"month":10,"date":1,"hours":12},{"year":2021,"month":10,"date":2,"hours":20},{"year":2021,"month":10,"date":4,"hours":4}],"format":"%-d %b %H:%M","labelAlign":"left","labelOffset":2,"tickSize":3,"labelPadding":3,"title":null}},
  "y":{"field":"v","type":"quantitative","scale":{"domain":[0,102.1],"nice":false,"zero":false},"axis":{"orient":"right","values":[0,5,10,90,95,100],"title":null,"tickSize":2,"labelPadding":1}}}},
{"data":{"name":"orangeArrow"},"mark":{"type":"line","color":"#f5a133","strokeWidth":1.8,"strokeDash":[4,3],"interpolate":"monotone"},
 "encoding":{"x":{"field":"t","type":"temporal","scale":{"domain":[{"year":2021,"month":9,"date":13,"hours":1,"minutes":42},{"year":2021,"month":10,"date":10,"hours":0,"minutes":24}]},"axis":{"values":[{"year":2021,"month":9,"date":16,"hours":20},{"year":2021,"month":9,"date":18,"hours":4},{"year":2021,"month":9,"date":19,"hours":12},{"year":2021,"month":9,"date":20,"hours":20},{"year":2021,"month":9,"date":22,"hours":4},{"year":2021,"month":9,"date":23,"hours":12},{"year":2021,"month":9,"date":24,"hours":20},{"year":2021,"month":9,"date":26,"hours":4},{"year":2021,"month":9,"date":27,"hours":12},{"year":2021,"month":9,"date":28,"hours":20},{"year":2021,"month":9,"date":30,"hours":4},{"year":2021,"month":10,"date":1,"hours":12},{"year":2021,"month":10,"date":2,"hours":20},{"year":2021,"month":10,"date":4,"hours":4}],"format":"%-d %b %H:%M","labelAlign":"left","labelOffset":2,"tickSize":3,"labelPadding":3,"title":null}},
  "y":{"field":"v","type":"quantitative","scale":{"domain":[0,102.1],"nice":false,"zero":false},"axis":{"orient":"right","values":[0,5,10,90,95,100],"title":null,"tickSize":2,"labelPadding":1}}}},
{"data":{"values":[{"t":"2021-10-06T21:18","v":42.6}]},"mark":{"type":"point","shape":"triangle-down","filled":true,"size":45,"angle":345,"color":"#f5a133","opacity":1},
 "encoding":{"x":{"field":"t","type":"temporal","scale":{"domain":[{"year":2021,"month":9,"date":13,"hours":1,"minutes":42},{"year":2021,"month":10,"date":10,"hours":0,"minutes":24}]},"axis":{"values":[{"year":2021,"month":9,"date":16,"hours":20},{"year":2021,"month":9,"date":18,"hours":4},{"year":2021,"month":9,"date":19,"hours":12},{"year":2021,"month":9,"date":20,"hours":20},{"year":2021,"month":9,"date":22,"hours":4},{"year":2021,"month":9,"date":23,"hours":12},{"year":2021,"month":9,"date":24,"hours":20},{"year":2021,"month":9,"date":26,"hours":4},{"year":2021,"month":9,"date":27,"hours":12},{"year":2021,"month":9,"date":28,"hours":20},{"year":2021,"month":9,"date":30,"hours":4},{"year":2021,"month":10,"date":1,"hours":12},{"year":2021,"month":10,"date":2,"hours":20},{"year":2021,"month":10,"date":4,"hours":4}],"format":"%-d %b %H:%M","labelAlign":"left","labelOffset":2,"tickSize":3,"labelPadding":3,"title":null}},
  "y":{"field":"v","type":"quantitative","scale":{"domain":[0,102.1],"nice":false,"zero":false},"axis":{"orient":"right","values":[0,5,10,90,95,100],"title":null,"tickSize":2,"labelPadding":1}}}},
{"data":{"values":[{"t":"2021-09-27T03:00","v":81,"txt":"Bitcoin, H4"}]},"mark":{"type":"text","align":"center","baseline":"middle","font":"Liberation Serif","fontWeight":"bold","fontSize":21,"color":"#111111"},
 "encoding":{"x":{"field":"t","type":"temporal","scale":{"domain":[{"year":2021,"month":9,"date":13,"hours":1,"minutes":42},{"year":2021,"month":10,"date":10,"hours":0,"minutes":24}]},"axis":{"values":[{"year":2021,"month":9,"date":16,"hours":20},{"year":2021,"month":9,"date":18,"hours":4},{"year":2021,"month":9,"date":19,"hours":12},{"year":2021,"month":9,"date":20,"hours":20},{"year":2021,"month":9,"date":22,"hours":4},{"year":2021,"month":9,"date":23,"hours":12},{"year":2021,"month":9,"date":24,"hours":20},{"year":2021,"month":9,"date":26,"hours":4},{"year":2021,"month":9,"date":27,"hours":12},{"year":2021,"month":9,"date":28,"hours":20},{"year":2021,"month":9,"date":30,"hours":4},{"year":2021,"month":10,"date":1,"hours":12},{"year":2021,"month":10,"date":2,"hours":20},{"year":2021,"month":10,"date":4,"hours":4}],"format":"%-d %b %H:%M","labelAlign":"left","labelOffset":2,"tickSize":3,"labelPadding":3,"title":null}},
  "y":{"field":"v","type":"quantitative","scale":{"domain":[0,102.1],"nice":false,"zero":false},"axis":{"orient":"right","values":[0,5,10,90,95,100],"title":null,"tickSize":2,"labelPadding":1}},"text":{"field":"txt"}}},
{"data":{"values":[{"t":"2021-09-27T03:00","v":68,"txt":"Signal for October 04-05"}]},"mark":{"type":"text","align":"center","baseline":"middle","font":"Liberation Serif","fontWeight":"bold","fontSize":11.5,"color":"#111111"},
 "encoding":{"x":{"field":"t","type":"temporal","scale":{"domain":[{"year":2021,"month":9,"date":13,"hours":1,"minutes":42},{"year":2021,"month":10,"date":10,"hours":0,"minutes":24}]},"axis":{"values":[{"year":2021,"month":9,"date":16,"hours":20},{"year":2021,"month":9,"date":18,"hours":4},{"year":2021,"month":9,"date":19,"hours":12},{"year":2021,"month":9,"date":20,"hours":20},{"year":2021,"month":9,"date":22,"hours":4},{"year":2021,"month":9,"date":23,"hours":12},{"year":2021,"month":9,"date":24,"hours":20},{"year":2021,"month":9,"date":26,"hours":4},{"year":2021,"month":9,"date":27,"hours":12},{"year":2021,"month":9,"date":28,"hours":20},{"year":2021,"month":9,"date":30,"hours":4},{"year":2021,"month":10,"date":1,"hours":12},{"year":2021,"month":10,"date":2,"hours":20},{"year":2021,"month":10,"date":4,"hours":4}],"format":"%-d %b %H:%M","labelAlign":"left","labelOffset":2,"tickSize":3,"labelPadding":3,"title":null}},
  "y":{"field":"v","type":"quantitative","scale":{"domain":[0,102.1],"nice":false,"zero":false},"axis":{"orient":"right","values":[0,5,10,90,95,100],"title":null,"tickSize":2,"labelPadding":1}},"text":{"field":"txt"}}},
{"data":{"values":[{"t":"2021-09-13T01:42","v":97.9,"txt":"Aquila(240) 51.4858  Aquila(50) 112.8375"}]},"mark":{"type":"text","align":"left","baseline":"middle","dx":1,"fontSize":5.8,"color":"#000000"},
 "encoding":{"x":{"field":"t","type":"temporal","scale":{"domain":[{"year":2021,"month":9,"date":13,"hours":1,"minutes":42},{"year":2021,"month":10,"date":10,"hours":0,"minutes":24}]},"axis":{"values":[{"year":2021,"month":9,"date":16,"hours":20},{"year":2021,"month":9,"date":18,"hours":4},{"year":2021,"month":9,"date":19,"hours":12},{"year":2021,"month":9,"date":20,"hours":20},{"year":2021,"month":9,"date":22,"hours":4},{"year":2021,"month":9,"date":23,"hours":12},{"year":2021,"month":9,"date":24,"hours":20},{"year":2021,"month":9,"date":26,"hours":4},{"year":2021,"month":9,"date":27,"hours":12},{"year":2021,"month":9,"date":28,"hours":20},{"year":2021,"month":9,"date":30,"hours":4},{"year":2021,"month":10,"date":1,"hours":12},{"year":2021,"month":10,"date":2,"hours":20},{"year":2021,"month":10,"date":4,"hours":4}],"format":"%-d %b %H:%M","labelAlign":"left","labelOffset":2,"tickSize":3,"labelPadding":3,"title":null}},
  "y":{"field":"v","type":"quantitative","scale":{"domain":[0,102.1],"nice":false,"zero":false},"axis":{"orient":"right","values":[0,5,10,90,95,100],"title":null,"tickSize":2,"labelPadding":1}},"text":{"field":"txt"}}},
{"data":{"values":[{"t":"2021-09-13T01:42","t2":"2021-09-16T18:12","v":7.8,"v2":-12.1}]},"mark":{"type":"rect","color":"#9a9a9a","opacity":0.85},
 "encoding":{"x":{"field":"t","type":"temporal","scale":{"domain":[{"year":2021,"month":9,"date":13,"hours":1,"minutes":42},{"year":2021,"month":10,"date":10,"hours":0,"minutes":24}]},"axis":{"values":[{"year":2021,"month":9,"date":16,"hours":20},{"year":2021,"month":9,"date":18,"hours":4},{"year":2021,"month":9,"date":19,"hours":12},{"year":2021,"month":9,"date":20,"hours":20},{"year":2021,"month":9,"date":22,"hours":4},{"year":2021,"month":9,"date":23,"hours":12},{"year":2021,"month":9,"date":24,"hours":20},{"year":2021,"month":9,"date":26,"hours":4},{"year":2021,"month":9,"date":27,"hours":12},{"year":2021,"month":9,"date":28,"hours":20},{"year":2021,"month":9,"date":30,"hours":4},{"year":2021,"month":10,"date":1,"hours":12},{"year":2021,"month":10,"date":2,"hours":20},{"year":2021,"month":10,"date":4,"hours":4}],"format":"%-d %b %H:%M","labelAlign":"left","labelOffset":2,"tickSize":3,"labelPadding":3,"title":null}},"x2":{"field":"t2"},
  "y":{"field":"v","type":"quantitative","scale":{"domain":[0,102.1],"nice":false,"zero":false},"axis":{"orient":"right","values":[0,5,10,90,95,100],"title":null,"tickSize":2,"labelPadding":1}},"y2":{"field":"v2"}}},
{"data":{"values":[{"t":"2021-09-13T13:30","v":-2.1,"txt":"✺"}]},"mark":{"type":"text","align":"center","baseline":"middle","font":"DejaVu Sans","fontSize":17,"color":"#ffffff"},
 "encoding":{"x":{"field":"t","type":"temporal","scale":{"domain":[{"year":2021,"month":9,"date":13,"hours":1,"minutes":42},{"year":2021,"month":10,"date":10,"hours":0,"minutes":24}]},"axis":{"values":[{"year":2021,"month":9,"date":16,"hours":20},{"year":2021,"month":9,"date":18,"hours":4},{"year":2021,"month":9,"date":19,"hours":12},{"year":2021,"month":9,"date":20,"hours":20},{"year":2021,"month":9,"date":22,"hours":4},{"year":2021,"month":9,"date":23,"hours":12},{"year":2021,"month":9,"date":24,"hours":20},{"year":2021,"month":9,"date":26,"hours":4},{"year":2021,"month":9,"date":27,"hours":12},{"year":2021,"month":9,"date":28,"hours":20},{"year":2021,"month":9,"date":30,"hours":4},{"year":2021,"month":10,"date":1,"hours":12},{"year":2021,"month":10,"date":2,"hours":20},{"year":2021,"month":10,"date":4,"hours":4}],"format":"%-d %b %H:%M","labelAlign":"left","labelOffset":2,"tickSize":3,"labelPadding":3,"title":null}},
  "y":{"field":"v","type":"quantitative","scale":{"domain":[0,102.1],"nice":false,"zero":false},"axis":{"orient":"right","values":[0,5,10,90,95,100],"title":null,"tickSize":2,"labelPadding":1}},"text":{"field":"txt"}}},
{"data":{"values":[{"t":"2021-09-14T00:00","v":1,"txt":"instaforex"}]},"mark":{"type":"text","align":"left","baseline":"middle","fontSize":17,"color":"#ffffff"},
 "encoding":{"x":{"field":"t","type":"temporal","scale":{"domain":[{"year":2021,"month":9,"date":13,"hours":1,"minutes":42},{"year":2021,"month":10,"date":10,"hours":0,"minutes":24}]},"axis":{"values":[{"year":2021,"month":9,"date":16,"hours":20},{"year":2021,"month":9,"date":18,"hours":4},{"year":2021,"month":9,"date":19,"hours":12},{"year":2021,"month":9,"date":20,"hours":20},{"year":2021,"month":9,"date":22,"hours":4},{"year":2021,"month":9,"date":23,"hours":12},{"year":2021,"month":9,"date":24,"hours":20},{"year":2021,"month":9,"date":26,"hours":4},{"year":2021,"month":9,"date":27,"hours":12},{"year":2021,"month":9,"date":28,"hours":20},{"year":2021,"month":9,"date":30,"hours":4},{"year":2021,"month":10,"date":1,"hours":12},{"year":2021,"month":10,"date":2,"hours":20},{"year":2021,"month":10,"date":4,"hours":4}],"format":"%-d %b %H:%M","labelAlign":"left","labelOffset":2,"tickSize":3,"labelPadding":3,"title":null}},
  "y":{"field":"v","type":"quantitative","scale":{"domain":[0,102.1],"nice":false,"zero":false},"axis":{"orient":"right","values":[0,5,10,90,95,100],"title":null,"tickSize":2,"labelPadding":1}},"text":{"field":"txt"}}},
{"data":{"values":[{"t":"2021-09-14T00:00","v":-8.8,"txt":"Instant Forex Trading"}]},"mark":{"type":"text","align":"left","baseline":"middle","fontSize":5,"color":"#eeeeee"},
 "encoding":{"x":{"field":"t","type":"temporal","scale":{"domain":[{"year":2021,"month":9,"date":13,"hours":1,"minutes":42},{"year":2021,"month":10,"date":10,"hours":0,"minutes":24}]},"axis":{"values":[{"year":2021,"month":9,"date":16,"hours":20},{"year":2021,"month":9,"date":18,"hours":4},{"year":2021,"month":9,"date":19,"hours":12},{"year":2021,"month":9,"date":20,"hours":20},{"year":2021,"month":9,"date":22,"hours":4},{"year":2021,"month":9,"date":23,"hours":12},{"year":2021,"month":9,"date":24,"hours":20},{"year":2021,"month":9,"date":26,"hours":4},{"year":2021,"month":9,"date":27,"hours":12},{"year":2021,"month":9,"date":28,"hours":20},{"year":2021,"month":9,"date":30,"hours":4},{"year":2021,"month":10,"date":1,"hours":12},{"year":2021,"month":10,"date":2,"hours":20},{"year":2021,"month":10,"date":4,"hours":4}],"format":"%-d %b %H:%M","labelAlign":"left","labelOffset":2,"tickSize":3,"labelPadding":3,"title":null}},
  "y":{"field":"v","type":"quantitative","scale":{"domain":[0,102.1],"nice":false,"zero":false},"axis":{"orient":"right","values":[0,5,10,90,95,100],"title":null,"tickSize":2,"labelPadding":1}},"text":{"field":"txt"}}}
]
}
]
}
